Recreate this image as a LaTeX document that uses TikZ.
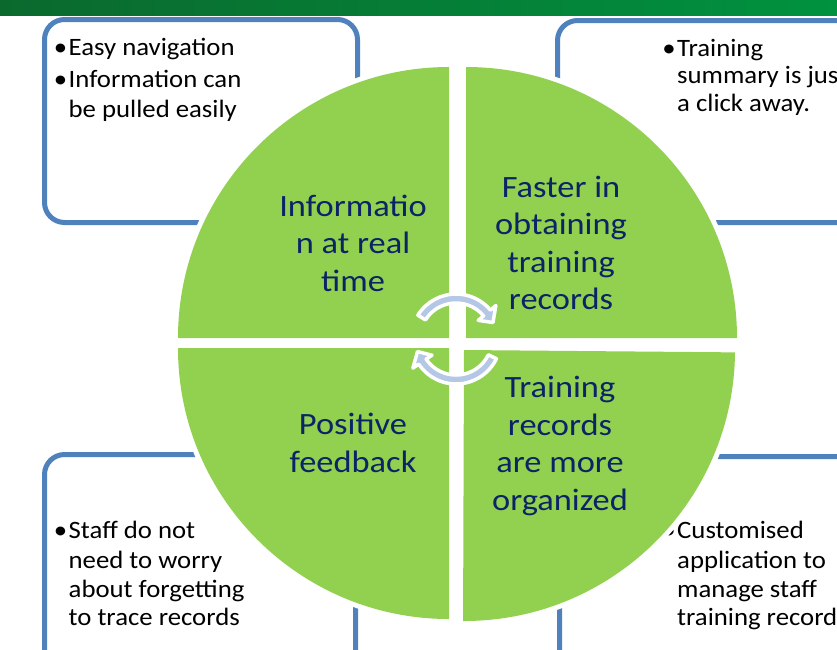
\documentclass[tikz,border=0pt]{standalone}
\usepackage{fontspec}
\setmainfont{Carlito}
\newfontfamily\boxfont{Carlito}[FakeStretch=1.07]
\newfontfamily\quadfont{Carlito}[FakeStretch=1.11]
\definecolor{boxblue}{RGB}{79,129,189}
\definecolor{qgreen}{RGB}{146,208,80}
\definecolor{qnavy}{RGB}{12,36,102}
\definecolor{arrowblue}{RGB}{180,199,231}
\definecolor{barleft}{RGB}{11,105,46}
\definecolor{barright}{RGB}{0,146,63}
\begin{document}
\begin{tikzpicture}[x=1pt,y=-1pt,
  box/.style={draw=boxblue, line width=5pt, fill=white, rounded corners=20pt},
  boxtxt/.style={anchor=base west, inner sep=0pt, font=\boxfont\fontsize{25}{30}\selectfont, text=black},
  quadtxt/.style={align=center, text=qnavy, font=\quadfont\fontsize{31}{37.5}\selectfont, inner sep=0pt},
  quad/.style={fill=qgreen, preaction={draw=white, line width=10pt, line join=round}},
  cyc/.style={fill=arrowblue, draw=white, line width=3.5pt, line join=round}]
\useasboundingbox (0,0) rectangle (837,649);
\clip (0,0) rectangle (837,649);
% top bar
\shade[left color=barleft, right color=barright] (0,0) rectangle (837,15);
% boxes
\draw[box] (44.5,19.5) rectangle (357.5,222.5);
\draw[box] (557.5,20.5) rectangle (900,222.5);
\draw[box] (44.5,454.5) rectangle (355.5,670);
\draw[box] (559.5,456.5) rectangle (900,670);
% box texts
\node[boxtxt] (a1) at (68.5,55) {\llap{•\hspace{1.5pt}}Easy navigation};
\node[boxtxt] (a2) at (68.5,87) {\llap{•\hspace{1.5pt}}Information can};
\node[boxtxt] (a3) at (68.5,117) {be pulled easily};
\node[boxtxt] (b1) at (677,56) {\llap{•\hspace{1.5pt}}Training};
\node[boxtxt] (b2) at (677,83.5) {summary is just};
\node[boxtxt] (b3) at (677,111) {a click away.};
\node[boxtxt] (c1) at (68.5,538) {\llap{•\hspace{1.5pt}}Staff do not};
\node[boxtxt] (c2) at (68.5,568) {need to worry};
\node[boxtxt] (c3) at (68.5,597) {about forgetting};
\node[boxtxt] (c4) at (68.5,625) {to trace records};
\node[boxtxt] (d1) at (677,538) {\llap{•\hspace{1.5pt}}Customised};
\node[boxtxt] (d2) at (677,568) {application to};
\node[boxtxt] (d3) at (677,597) {manage staff};
\node[boxtxt] (d4) at (677,625) {training records};
% quadrants
\path[quad] (449,338) -- ++(180:271) arc[start angle=180,end angle=270,radius=271] -- cycle;
\path[quad] (466,338) -- ++(270:271) arc[start angle=270,end angle=360,radius=271] -- cycle;
\path[quad] (464,350) -- ++(0.5:271) arc[start angle=0.5,end angle=90.2,radius=271] -- cycle;
\path[quad] (449,348) -- ++(90:271) arc[start angle=90,end angle=180,radius=271] -- cycle;
% quadrant texts
\node[quadtxt] (q1) at (353,243) {Informatio\\n at real\\time};
\node[quadtxt] (q2) at (561,243) {Faster in\\obtaining\\training\\records};
\node[quadtxt] (q3) at (353,443) {Positive\\feedback};
\node[quadtxt] (q4) at (560,446) {Training\\records\\are more\\organized};
% circular arrows
\begin{scope}[shift={(456,339)}]
\path[cyc] (212:45) arc[start angle=212,end angle=320,radius=45] -- (320:52) -- (336:40.5) -- (320:29) -- (320:36) arc[start angle=320,end angle=212,radius=36] -- cycle;
\path[cyc] (26:45) arc[start angle=26,end angle=146,radius=45] -- (146:52) -- (162:40.5) -- (146:29) -- (146:36) arc[start angle=146,end angle=26,radius=36] -- cycle;
\end{scope}
\end{tikzpicture}
\end{document}
